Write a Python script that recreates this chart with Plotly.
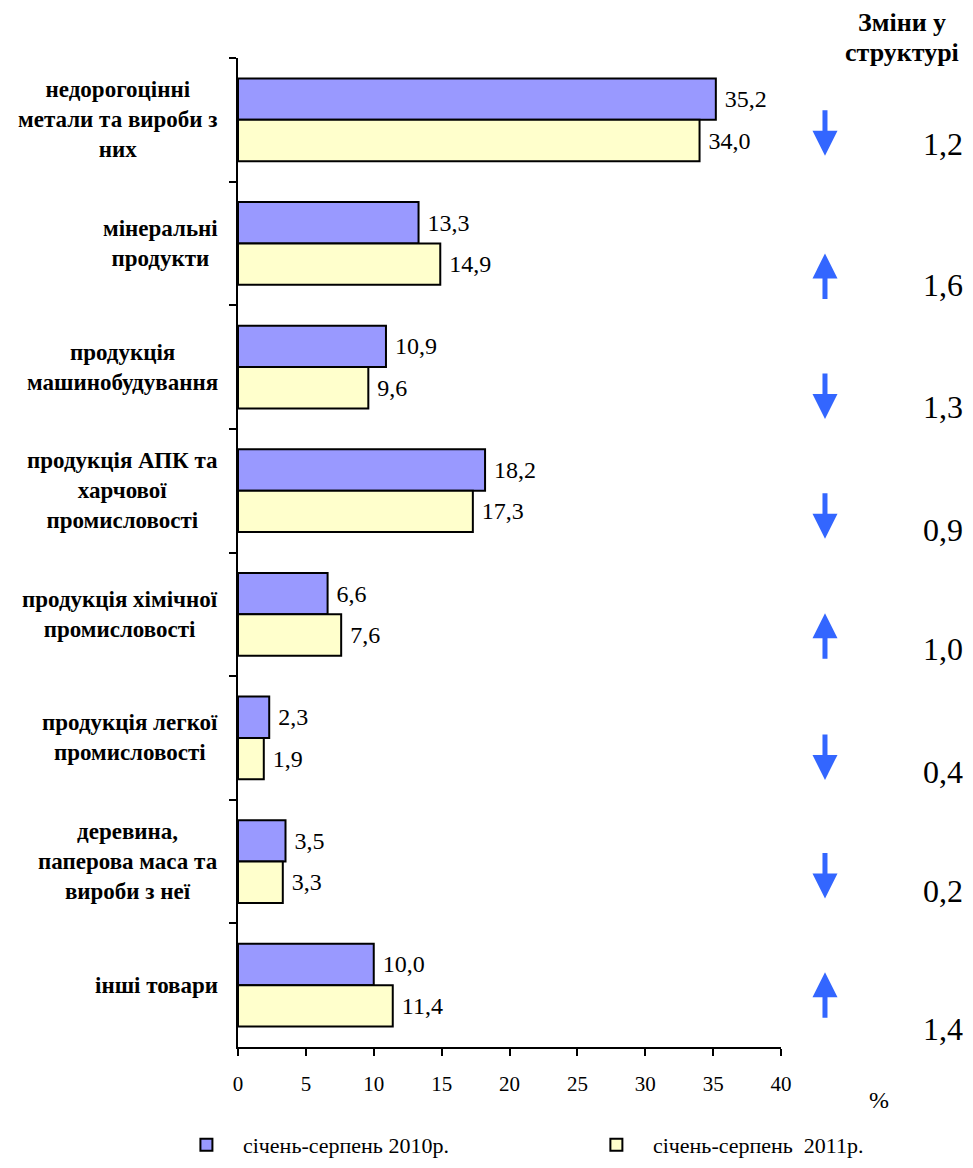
import plotly.graph_objects as go

categories = [
    "недорогоцінні<br>метали та вироби з<br>них",
    "мінеральні<br>продукти",
    "продукція<br>машинобудування",
    "продукція АПК та<br>харчової<br>промисловості",
    "продукція хімічної<br>промисловості",
    "продукція легкої<br>промисловості",
    "деревина,<br>паперова маса та<br>вироби з неї",
    "інші товари",
]
values_2010 = [35.2, 13.3, 10.9, 18.2, 6.6, 2.3, 3.5, 10.0]
values_2011 = [34.0, 14.9, 9.6, 17.3, 7.6, 1.9, 3.3, 11.4]
changes = ["1,2", "1,6", "1,3", "0,9", "1,0", "0,4", "0,2", "1,4"]
directions = ["down", "up", "down", "down", "up", "down", "down", "up"]
series_names = ["січень-серпень 2010р.", "січень-серпень\u00a0 2011р."]
header_lines = ["Зміни у", "структурі"]
x_ticks = [0, 5, 10, 15, 20, 25, 30, 35, 40]

# pixel offsets (layout tuning) for arrows and change values
arrow_tip_offsets = [36, 10, 52, 48, -1, 42, 37, -13]
change_offsets = [27, 45, 43, 42, 38, 37, 32, 47]

keys = [f"c{i}" for i in range(len(categories))]
FONT = "Liberation Serif, Times New Roman, Times, serif"
PAD = "\u00a0\u00a0\u00a0"

fig = go.Figure()
fig.add_trace(go.Bar(
    y=keys, x=values_2010, orientation="h", name=PAD + series_names[0], legend="legend",
    marker=dict(color="#9999FF", line=dict(color="black", width=2)),
    texttemplate=" %{x:.1f}", textposition="outside", cliponaxis=False,
    textfont=dict(family=FONT, size=24, color="black"),
))
fig.add_trace(go.Bar(
    y=keys, x=values_2011, orientation="h", name=PAD + series_names[1], legend="legend2",
    marker=dict(color="#FFFFCC", line=dict(color="black", width=2)),
    texttemplate=" %{x:.1f}", textposition="outside", cliponaxis=False,
    textfont=dict(family=FONT, size=24, color="black"),
))

annotations = []
for k, lab in zip(keys, categories):
    annotations.append(dict(
        x=-0.033, xref="paper", y=k, yref="y", text=lab, showarrow=False,
        xanchor="right", yanchor="middle", align="center",
        font=dict(family=FONT, size=23, color="black", weight="bold"),
    ))
for k, d, off, ch, coff in zip(keys, directions, arrow_tip_offsets, changes, change_offsets):
    annotations.append(dict(
        x=1.081, xref="paper", y=k, yref="y", text="", showarrow=True,
        ax=0, ay=(-47 if d == "down" else 47), yshift=-off,
        arrowhead=2, arrowsize=1, arrowwidth=5, arrowcolor="#3366FF", standoff=0,
    ))
    annotations.append(dict(
        x=1.339, xref="paper", y=k, yref="y", text=ch, showarrow=False,
        xanchor="right", yanchor="middle", yshift=-coff + 3,
        font=dict(family=FONT, size=32, color="black"),
    ))
for line, ys in zip(header_lines, [36, 6]):
    annotations.append(dict(
        x=1.222, xref="paper", y=1.0, yref="paper", yshift=ys, text=line,
        showarrow=False, xanchor="center", yanchor="middle", align="center",
        font=dict(family=FONT, size=26, color="black", weight="bold"),
    ))
annotations.append(dict(
    x=1.18, xref="paper", y=0, yref="paper", yshift=-53, text="%",
    showarrow=False, xanchor="center", yanchor="middle",
    font=dict(family=FONT, size=24, color="black"),
))

legend_common = dict(
    orientation="h", xanchor="left", yref="container", y=0.0198, yanchor="middle",
    font=dict(family=FONT, size=22, color="black"), bgcolor="rgba(0,0,0,0)",
)

fig.update_layout(
    width=965, height=1160,
    margin=dict(l=230, r=192, t=50, b=121, autoexpand=False),
    paper_bgcolor="white", plot_bgcolor="white",
    barmode="group", bargap=0.33, bargroupgap=0,
    separators=", ",
    font=dict(family=FONT, color="black"),
    annotations=annotations,
    showlegend=True,
    legend=dict(x=-0.095, **legend_common),
    legend2=dict(x=0.660, **legend_common),
    xaxis=dict(
        range=[0, 40], tickvals=x_ticks, ticks="outside", ticklen=7, tickwidth=2,
        tickcolor="black", showline=True, linecolor="black", linewidth=2,
        showgrid=False, zeroline=False, ticklabelstandoff=10,
        tickfont=dict(family=FONT, size=21, color="black"),
    ),
    yaxis=dict(
        autorange="reversed", type="category", showticklabels=False,
        ticks="outside", tickson="boundaries", ticklen=7, tickwidth=2, tickcolor="black",
        showline=True, linecolor="black", linewidth=2, showgrid=False,
    ),
)

fig.write_html("out.html")
